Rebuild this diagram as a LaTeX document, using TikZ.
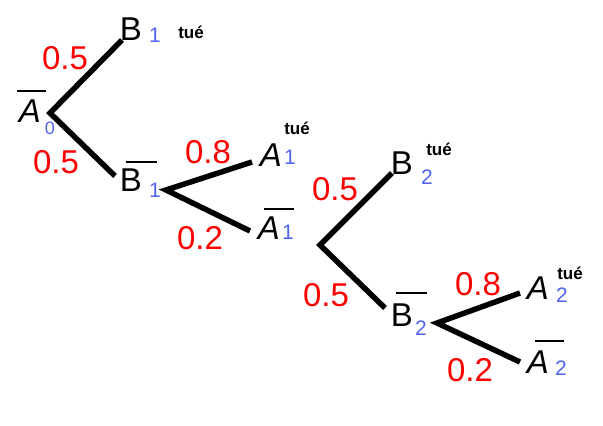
\documentclass[tikz,border=0pt]{standalone}
\usepackage{fontspec}
\setmainfont{Liberation Sans}
\definecolor{probred}{RGB}{255,0,0}
\definecolor{idxblue}{RGB}{80,100,240}
\begin{document}
\begin{tikzpicture}[x=1pt, y=-1pt,
    branch/.style={line width=5.5pt},
    bar/.style={line width=2pt},
    prob/.style={text=probred, font=\fontsize{33}{33}\selectfont, inner sep=0pt},
    event/.style={font=\fontsize{33}{33}\selectfont, inner sep=0pt},
    idx/.style={text=idxblue, font=\fontsize{21}{21}\selectfont, inner sep=0pt},
    kill/.style={font=\bfseries\fontsize{17}{17}\selectfont, inner sep=0pt}]
    \useasboundingbox (0,0) rectangle (603,426);

    \def\ba{0.5};
    \def\bb{0.8};
    \def\bc{0.2};

% branch points and ends
    \coordinate (r0) at (50,113);
    \coordinate (eB1) at (122,40);
    \coordinate (enB1) at (115,176);
    \coordinate (r1) at (166,190);
    \coordinate (eA1) at (252,162);
    \coordinate (enA1) at (250,231);
    \coordinate (r2) at (320,245);
    \coordinate (eB2) at (392,173);
    \coordinate (enB2) at (385,308);
    \coordinate (r3) at (437,323);
    \coordinate (eA2) at (520,293);
    \coordinate (enA2) at (520,362);

    \draw[branch] (eB1) -- (r0) -- (enB1);
    \draw[branch] (eA1) -- (r1) -- (enA1);
    \draw[branch] (eB2) -- (r2) -- (enB2);
    \draw[branch] (eA2) -- (r3) -- (enA2);

% events
    \node[event] (A0) at (30,111) {\itshape A};
    \node[idx] (i0) at (50,128) {\fontsize{18}{18}\selectfont 0};
    \draw[bar] (17,91) -- (46,91);

    \node[event] (B1) at (131,29) {B};
    \node[idx] (iB1) at (155,35) {1};
    \node[kill] (kB1) at (191,32) {tué};

    \node[event] (nB1) at (131,180) {B};
    \node[idx] (inB1) at (155,190) {1};
    \draw[bar] (126,162) -- (157,162);

    \node[event] (A1) at (271,155) {\itshape A};
    \node[idx] (iA1) at (290,157) {1};
    \node[kill] (kA1) at (297,128) {tué};

    \node[event] (nA1) at (269,228) {\itshape A};
    \node[idx] (inA1) at (288,232) {1};
    \draw[bar] (264,209) -- (294,209);

    \node[event] (B2) at (402,163) {B};
    \node[idx] (iB2) at (427,177) {2};
    \node[kill] (kB2) at (439,149) {tué};

    \node[event] (nB2) at (402,315) {B};
    \node[idx] (inB2) at (421,328) {2};
    \draw[bar] (396,293) -- (427,293);

    \node[event] (A2) at (538,288) {\itshape A};
    \node[idx] (iA2) at (562,295) {2};
    \node[kill] (kA2) at (570,273) {tué};

    \node[event] (nA2) at (538,362) {\itshape A};
    \node[idx] (inA2) at (561,368) {2};
    \draw[bar] (535,341) -- (564,341);

% probabilities
    \node[prob] at (65,58) {\ba};
    \node[prob] at (56,162) {\ba};
    \node[prob] at (208,152) {\bb};
    \node[prob] at (200,238) {\bc};
    \node[prob] at (335,189) {\ba};
    \node[prob] at (326,295) {\ba};
    \node[prob] at (478,284) {\bb};
    \node[prob] at (470,370) {\bc};

\end{tikzpicture}
\end{document}
